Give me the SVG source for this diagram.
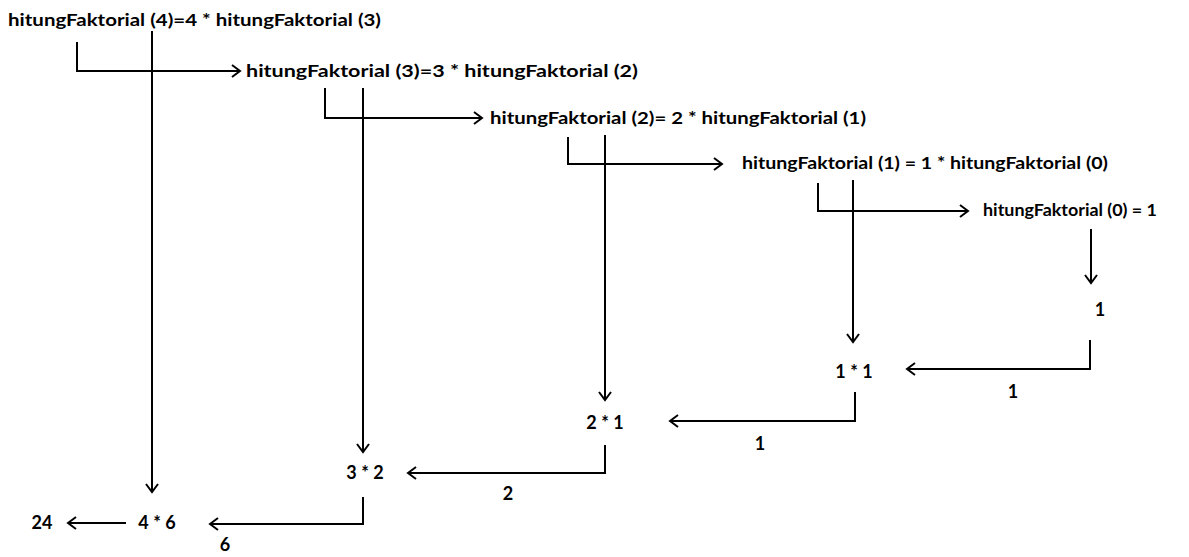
<svg xmlns="http://www.w3.org/2000/svg" width="1189" height="557" viewBox="0 0 1189 557">
<defs>
<marker id="arr" markerWidth="12" markerHeight="14" refX="10" refY="7" orient="auto" markerUnits="userSpaceOnUse">
<path d="M2,1 L10,7 L2,13" fill="none" stroke="#000" stroke-width="2"/>
</marker>
<style>
text{font-family:Lato,"Open Sans","Liberation Sans",sans-serif;font-weight:bold;font-size:17px;fill:#000}
.s{font-size:18px}
.c path{fill:none;stroke:#000;stroke-width:2;marker-end:url(#arr)}
</style>
</defs>
<rect width="1189" height="557" fill="#fff"/>
<g id="n4"><text x="8" y="26" textLength="373" lengthAdjust="spacingAndGlyphs">hitungFaktorial (4)=4 * hitungFaktorial (3)</text></g>
<g id="n3"><text x="246" y="77" textLength="392" lengthAdjust="spacingAndGlyphs">hitungFaktorial (3)=3 * hitungFaktorial (2)</text></g>
<g id="n2"><text x="490" y="124" textLength="376" lengthAdjust="spacingAndGlyphs">hitungFaktorial (2)= 2 * hitungFaktorial (1)</text></g>
<g id="n1"><text x="742" y="169" textLength="366" lengthAdjust="spacingAndGlyphs">hitungFaktorial (1) = 1 * hitungFaktorial (0)</text></g>
<g id="n0"><text x="983" y="216" textLength="174" lengthAdjust="spacingAndGlyphs">hitungFaktorial (0) = 1</text></g>
<g id="v1"><text class="s" x="1100" y="316" text-anchor="middle">1</text></g>
<g id="m11"><text class="s" x="854" y="378" text-anchor="middle">1 * 1</text></g>
<g id="m21"><text class="s" x="605" y="429" text-anchor="middle">2 * 1</text></g>
<g id="m32"><text class="s" x="365" y="479" text-anchor="middle">3 * 2</text></g>
<g id="m46"><text class="s" x="157" y="529" text-anchor="middle">4 * 6</text></g>
<g id="r24"><text class="s" x="42" y="529" text-anchor="middle">24</text></g>
<g id="connectors" class="c">
<path d="M77,42 V71 H240"/>
<path d="M152,31 V492"/>
<path d="M325,88 V118 H482"/>
<path d="M363,88 V452"/>
<path d="M568,137 V164 H722"/>
<path d="M605,135 V400"/>
<path d="M818,183 V211 H968"/>
<path d="M853,180 V342"/>
<path d="M1091,229 V283"/>
<path d="M1090,340 V369 H907"/>
<path d="M855,392 V421 H670"/>
<path d="M605,445 V473 H408"/>
<path d="M363,497 V524 H210"/>
<path d="M126,523 H68"/>
</g>
<g id="labels">
<text class="s" x="1013" y="398" text-anchor="middle">1</text>
<text class="s" x="760" y="450" text-anchor="middle">1</text>
<text class="s" x="508" y="500" text-anchor="middle">2</text>
<text class="s" x="225" y="551" text-anchor="middle">6</text>
</g>
</svg>
